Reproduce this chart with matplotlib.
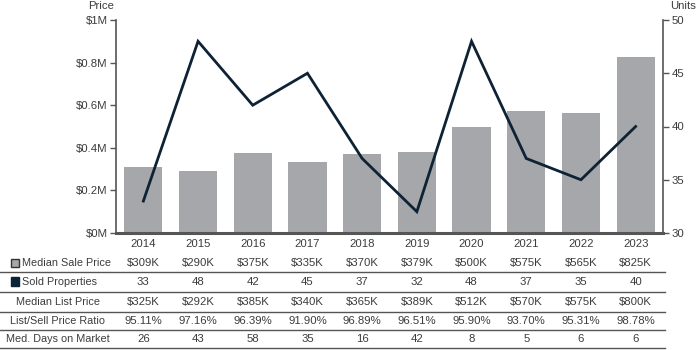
import matplotlib.pyplot as plt
import matplotlib.transforms as mtransforms
from matplotlib.lines import Line2D
from matplotlib.patches import Rectangle

plt.rcParams['font.family'] = ['Liberation Sans', 'DejaVu Sans']

# Data
years = ['2014', '2015', '2016', '2017', '2018', '2019', '2020', '2021', '2022', '2023']
median_sale = [309, 290, 375, 335, 370, 379, 500, 575, 565, 825]  # $K
sold = [33, 48, 42, 45, 37, 32, 48, 37, 35, 40]
median_list = [325, 292, 385, 340, 365, 389, 512, 570, 575, 800]  # $K
ratio = [95.11, 97.16, 96.39, 91.90, 96.89, 96.51, 95.90, 93.70, 95.31, 98.78]
days = [26, 43, 58, 35, 16, 42, 8, 5, 6, 6]

price_ticks = [0, 0.2, 0.4, 0.6, 0.8, 1.0]
unit_ticks = [30, 35, 40, 45, 50]

bar_col = '#a6a7ab'
line_col = '#0e2235'
txt_col = '#3c3c3c'
axis_col = '#555555'
fs = 7.8      # row labels, years
fs_val = 8.2  # table values, tick labels

W, H = 700, 350
fig = plt.figure(figsize=(7, 3.5), dpi=100)

def fy(py):
    return 1 - py / H

left, right, top, bottom = 116, 663, 20, 233
ax = fig.add_axes([left / W, fy(bottom), (right - left) / W, (bottom - top) / H])
x = range(len(years))
ax.bar(x, [v / 1000 for v in median_sale], width=0.7, color=bar_col, zorder=2)
ax.set_xlim(-0.5, len(years) - 0.5)
ax.set_ylim(0, 1)
ax.set_yticks(price_ticks)
ax.set_yticklabels(['$0M', '$0.2M', '$0.4M', '$0.6M', '$0.8M', '$1M'])
ax.set_xticks(list(x))
ax.set_xticklabels(years)
ax.tick_params(axis='x', length=0, pad=4, labelsize=fs_val, colors=txt_col)
ax.tick_params(axis='y', length=4, width=1, color=axis_col, labelsize=fs_val, labelcolor=txt_col, pad=2)
for s in ['top', 'right']:
    ax.spines[s].set_visible(False)
ax.spines['left'].set_color(axis_col)
ax.spines['left'].set_linewidth(1.2)
ax.spines['bottom'].set_color(axis_col)
ax.spines['bottom'].set_linewidth(2.2)

ax2 = ax.twinx()
ax2.plot(x, sold, color=line_col, lw=2, solid_joinstyle='miter', zorder=3)
ax2.set_ylim(30, 50)
ax2.set_yticks(unit_ticks)
ax2.tick_params(axis='y', length=4, width=1, color=axis_col, labelsize=fs_val, labelcolor=txt_col, pad=2)
for s in ['top', 'left', 'bottom']:
    ax2.spines[s].set_visible(False)
ax2.spines['right'].set_color(axis_col)
ax2.spines['right'].set_linewidth(1.2)

fig.text(101 / W, fy(6), 'Price', ha='center', va='center', fontsize=8.2, color=txt_col)
fig.text(683 / W, fy(6), 'Units', ha='center', va='center', fontsize=8.2, color=txt_col)

# Table below the chart
trans = mtransforms.blended_transform_factory(ax.transData, fig.transFigure)
rows = [
    ('Median Sale Price', ['$%dK' % v for v in median_sale]),
    ('Sold Properties', [str(v) for v in sold]),
    ('Median List Price', ['$%dK' % v for v in median_list]),
    ('List/Sell Price Ratio', ['%.2f%%' % v for v in ratio]),
    ('Med. Days on Market', [str(v) for v in days]),
]
row_y = [263, 282, 302, 321, 339]
line_y = [272, 292, 312, 330, 348]
for i, (label, vals) in enumerate(rows):
    if i < 2:
        fig.text(22 / W, fy(row_y[i]), label, ha='left', va='center', fontsize=fs, color=txt_col)
    else:
        fig.text(58 / W, fy(row_y[i]), label, ha='center', va='center', fontsize=fs, color=txt_col)
    for j, v in enumerate(vals):
        fig.text(j, fy(row_y[i]), v, transform=trans, ha='center', va='center',
                 fontsize=fs_val, color=txt_col)
    fig.add_artist(Line2D([0, 665 / W], [fy(line_y[i])] * 2, color=axis_col, lw=1))

# legend squares
fig.add_artist(Rectangle((10.5 / W, fy(267)), 8.5 / W, 8.5 / H, facecolor=bar_col,
                         edgecolor='#333333', lw=1))
fig.add_artist(Rectangle((10.5 / W, fy(285.5)), 8.5 / W, 8.5 / H, facecolor=line_col,
                         edgecolor=line_col, lw=1))

fig.savefig('out.png', dpi=100)
